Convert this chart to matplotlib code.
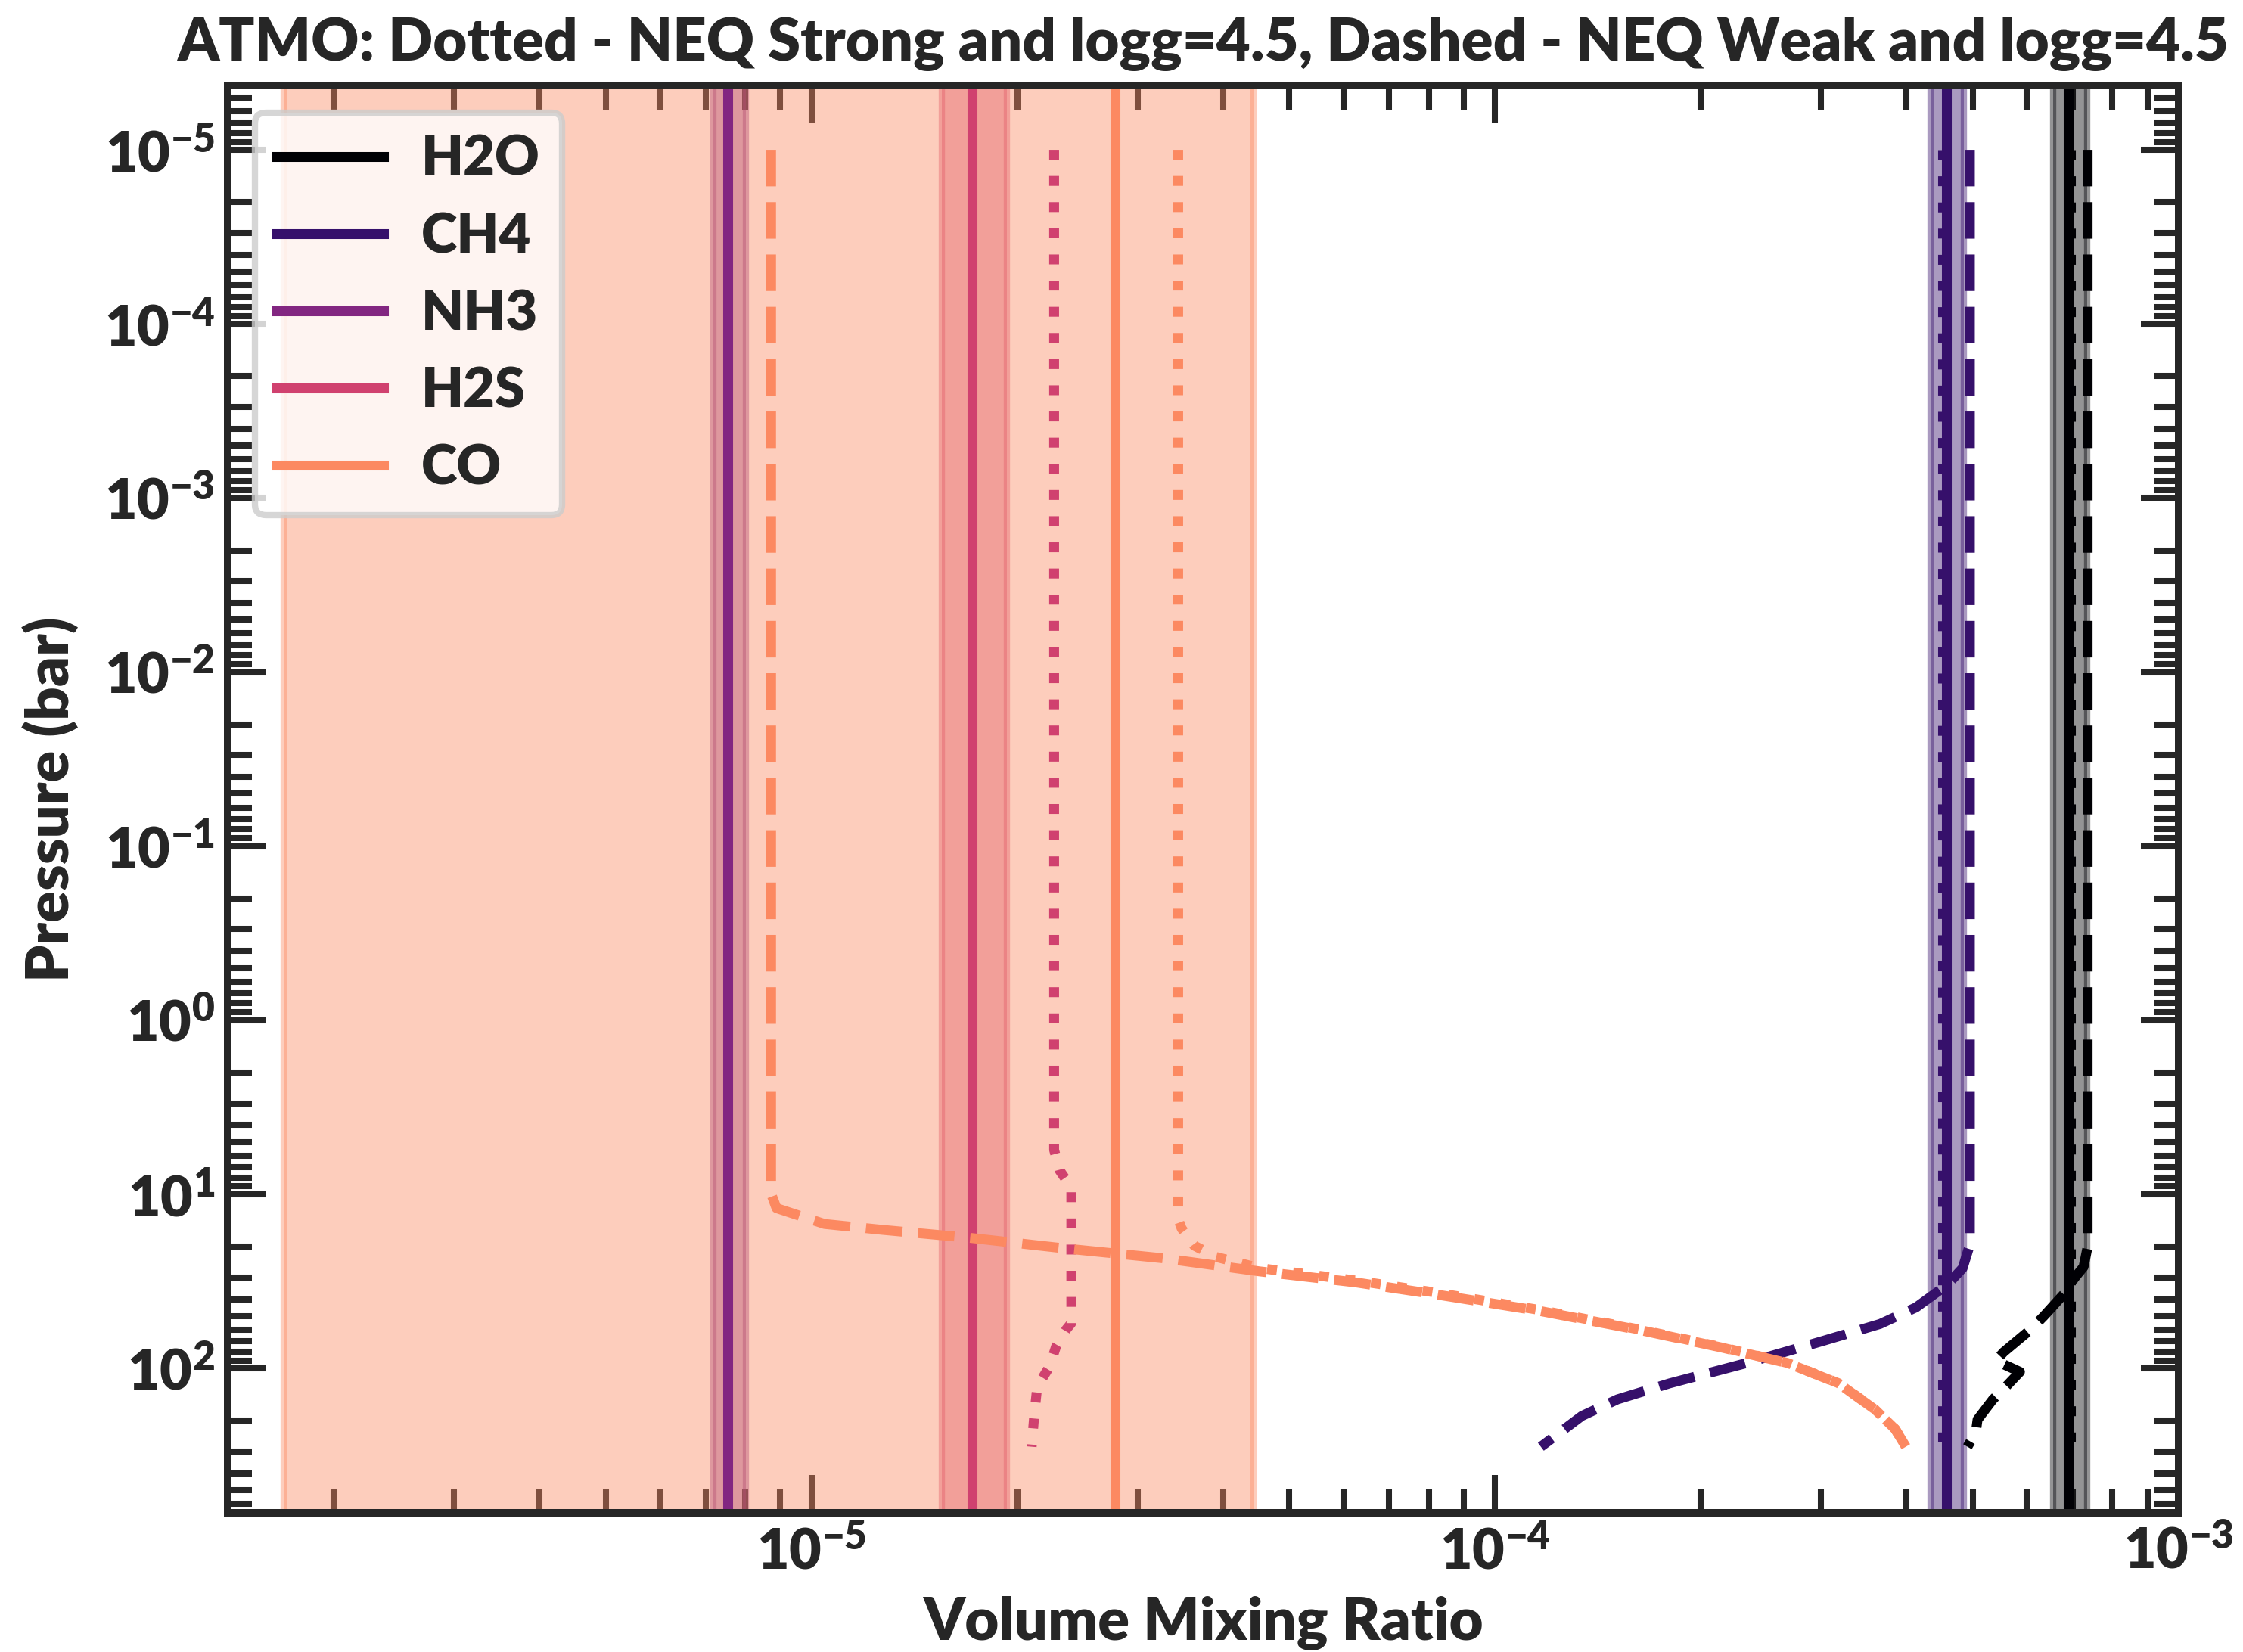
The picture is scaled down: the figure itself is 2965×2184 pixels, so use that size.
import numpy as np
import matplotlib
matplotlib.use("Agg")
import matplotlib.pyplot as plt
from matplotlib.ticker import LogLocator, FixedLocator, FuncFormatter, NullFormatter

# ---- species, colours and retrieved abundances --------------------------
species = ["H2O", "CH4", "NH3", "H2S", "CO"]
colors = ["#000004", "#36106b", "#822681", "#d0416f", "#fc8961"]

retrieved = [6.90e-4, 4.57e-4, 7.55e-6, 1.72e-5, 2.78e-5]
lower = [6.55e-4, 4.34e-4, 7.18e-6, 1.55e-5, 1.69e-6]
upper = [7.34e-4, 4.85e-4, 8.03e-6, 1.93e-5, 4.43e-5]

# ---- ATMO NEQ Weak (logg=4.5) profiles, dashed --------------------------
weak_h2o_vmr = [7.36e-4, 7.36e-4, 7.26e-4, 7.03e-4, 6.85e-4, 6.35e-4, 6.08e-4,
                5.55e-4, 5.40e-4, 5.86e-4, 5.58e-4, 5.35e-4, 5.08e-4, 5.05e-4,
                4.91e-4]
weak_h2o_p = [1e-5, 20.0, 26.1, 30.5, 36.1, 50.1, 59.6, 80.4, 90.2, 104.7,
              128.2, 150.7, 196.8, 233.3, 281.8]

weak_ch4_vmr = [4.95e-4, 4.95e-4, 4.95e-4, 4.83e-4, 4.59e-4, 4.13e-4, 3.66e-4,
                3.03e-4, 2.33e-4, 1.80e-4, 1.51e-4, 1.34e-4, 1.167e-4]
weak_ch4_p = [1e-5, 15.8, 19.5, 26.6, 33.0, 44.6, 55.5, 69.2, 93.3, 121.9,
              150.7, 187.5, 281.8]

weak_co_vmr = [8.73e-6, 8.73e-6, 8.89e-6, 1.045e-5, 1.27e-5, 1.71e-5, 2.36e-5,
               3.27e-5, 4.52e-5, 6.27e-5, 8.24e-5, 1.167e-4, 1.648e-4, 2.14e-4,
               2.68e-4, 3.18e-4, 3.59e-4, 3.85e-4, 3.99e-4]
weak_co_p = [1e-5, 9.9, 12.0, 14.8, 16.0, 17.8, 20.5, 23.3, 27.7, 32.1, 37.7,
             46.9, 60.8, 75.7, 93.3, 121.9, 171.4, 223.4, 281.8]

# ---- ATMO NEQ Strong (logg=4.5) profiles, dotted ------------------------
strong_h2o_vmr = [6.95e-4, 6.95e-4]
strong_h2o_p = [1e-5, 281.8]

strong_ch4_vmr = [4.52e-4, 4.52e-4]
strong_ch4_p = [1e-5, 281.8]

strong_h2s_vmr = [2.265e-5, 2.265e-5, 2.307e-5, 2.40e-5, 2.40e-5, 2.36e-5,
                  2.28e-5, 2.23e-5, 2.14e-5, 2.12e-5, 2.10e-5]
strong_h2s_p = [1e-5, 5.56, 7.28, 9.14, 55.0, 59.6, 74.8, 97.7, 127.1, 179.9,
                281.8]

strong_co_vmr = [3.44e-5, 3.44e-5, 3.48e-5, 3.63e-5, 3.91e-5, 4.52e-5, 6.27e-5,
                 8.24e-5, 1.167e-4, 1.648e-4, 2.14e-4, 2.68e-4, 3.18e-4,
                 3.59e-4, 3.85e-4, 3.99e-4]
strong_co_p = [1e-5, 13.9, 15.7, 19.7, 22.9, 26.5, 31.3, 36.8, 46.3, 60.4,
               75.3, 93.1, 121.6, 171.0, 223.4, 281.8]

weak_profiles = {"H2O": (weak_h2o_vmr, weak_h2o_p),
                 "CH4": (weak_ch4_vmr, weak_ch4_p),
                 "CO": (weak_co_vmr, weak_co_p)}
strong_profiles = {"H2O": (strong_h2o_vmr, strong_h2o_p),
                   "CH4": (strong_ch4_vmr, strong_ch4_p),
                   "H2S": (strong_h2s_vmr, strong_h2s_p),
                   "CO": (strong_co_vmr, strong_co_p)}

x_major = [1e-5, 1e-4, 1e-3]
y_major = [1e-5, 1e-4, 1e-3, 1e-2, 1e-1, 1e0, 1e1, 1e2]

title = "ATMO: Dotted - NEQ Strong and logg=4.5, Dashed - NEQ Weak and logg=4.5"

# ---- style ---------------------------------------------------------------
ink = "#262626"
plt.rcParams.update({
    "font.family": ["Lato", "DejaVu Sans"],
    "font.weight": "heavy",
    "axes.labelweight": "heavy",
    "axes.titleweight": "heavy",
    "mathtext.fontset": "custom",
    "mathtext.rm": "Lato:heavy",
    "mathtext.bf": "Lato:heavy",
    "mathtext.it": "Lato:heavy",
    "text.color": ink,
    "axes.labelcolor": ink,
    "axes.edgecolor": ink,
    "xtick.color": ink,
    "ytick.color": ink,
    "axes.axisbelow": True,
    "lines.linewidth": 4.7,
    "patch.linewidth": 3.0,
})

fig = plt.figure(figsize=(2965 / 200, 2184 / 200), dpi=200)
ax = fig.add_axes([0.1015, 0.0842, 0.9713 - 0.1015, 0.9483 - 0.0842])

for name, c, med, lo, hi in zip(species, colors, retrieved, lower, upper):
    ax.axvspan(lo, hi, color=c, alpha=0.42, zorder=1)
    ax.axvline(med, color=c, lw=4.7, label=name, zorder=2)
    if name in strong_profiles:
        v, p = strong_profiles[name]
        ax.plot(v, p, color=c, ls=":", lw=4.7, zorder=3)
    if name in weak_profiles:
        v, p = weak_profiles[name]
        ax.plot(v, p, color=c, ls="--", lw=4.7, zorder=3)

ax.set_xscale("log")
ax.set_yscale("log")
ax.set_xlim(1.40e-6, 1e-3)
ax.set_ylim(10 ** 2.83, 10 ** -5.37)

fmt = FuncFormatter(lambda v, pos: r"$\mathbf{10^{%d}}$" % int(round(np.log10(v))))
for axis, majors in ((ax.xaxis, x_major), (ax.yaxis, y_major)):
    axis.set_major_locator(FixedLocator(majors))
    axis.set_minor_locator(LogLocator(base=10, subs=np.arange(2, 10), numticks=20))
    axis.set_major_formatter(fmt)
    axis.set_minor_formatter(NullFormatter())

ax.tick_params(which="both", direction="in", top=True, right=True, width=2.9,
               color=ink)
ax.tick_params(which="major", length=18, labelsize=26.5, pad=6)
ax.tick_params(which="minor", length=11.5)
for s in ax.spines.values():
    s.set_linewidth(3.6)
    s.set_color(ink)

ax.set_xlabel("Volume Mixing Ratio", fontsize=28, labelpad=8)
ax.set_ylabel("Pressure (bar)", fontsize=28, labelpad=12)
ax.set_title(title, fontsize=28, pad=12)

leg = ax.legend(loc="upper left", fontsize=26, frameon=True, fancybox=True,
                framealpha=0.8, edgecolor="0.8", handlelength=1.95,
                handletextpad=0.7, labelspacing=0.5)
leg.get_frame().set_linewidth(3.0)

fig.savefig("out.png", dpi=200)
